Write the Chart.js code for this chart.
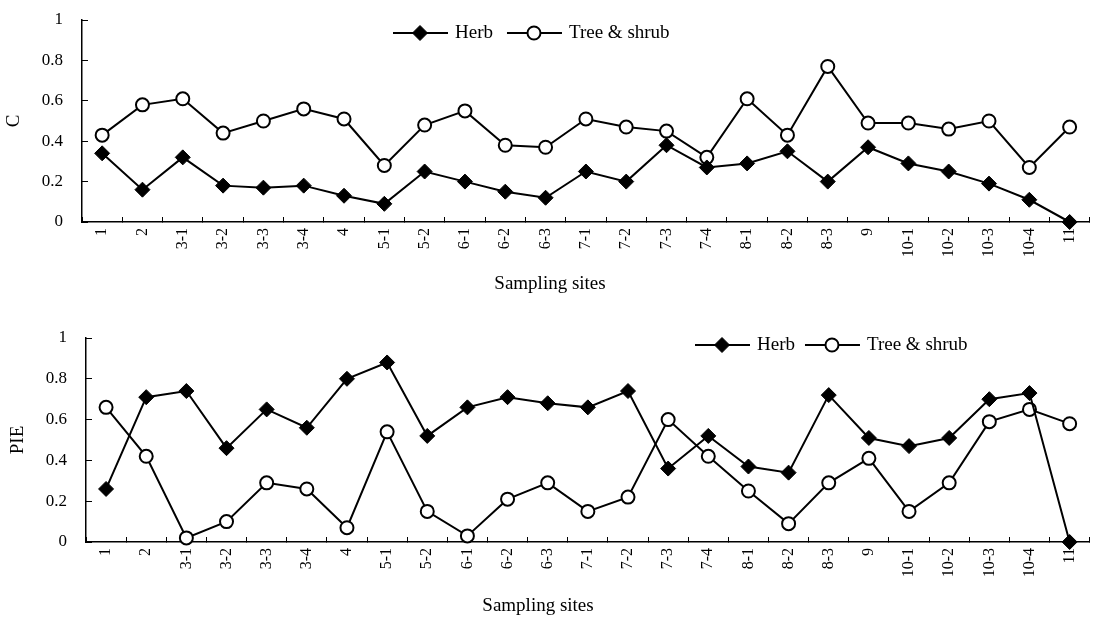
<!DOCTYPE html>
<html>
<head>
<meta charset="utf-8">
<script src="https://cdn.jsdelivr.net/npm/chart.js@4.4.0/dist/chart.umd.min.js"></script>
<style>
  body { margin: 0; background: #fff; overflow: hidden; }
  canvas { position: absolute; left: 0; }
  #topChart { top: -16px; }
  #bottomChart { top: 300px; }
</style>
</head>
<body>
<canvas id="topChart" width="1100" height="316"></canvas>
<canvas id="bottomChart" width="1100" height="319"></canvas>
<script>
// sampling sites on the x axis
const sites = ['1', '2', '3-1', '3-2', '3-3', '3-4', '4', '5-1', '5-2', '6-1', '6-2', '6-3',
  '7-1', '7-2', '7-3', '7-4', '8-1', '8-2', '8-3', '9', '10-1', '10-2', '10-3', '10-4', '11'];

// C values (top panel)
const herbC = [0.34, 0.16, 0.32, 0.18, 0.17, 0.18, 0.13, 0.09, 0.25, 0.20, 0.15, 0.12,
  0.25, 0.20, 0.38, 0.27, 0.29, 0.35, 0.20, 0.37, 0.29, 0.25, 0.19, 0.11, 0.0];
const treeC = [0.43, 0.58, 0.61, 0.44, 0.50, 0.56, 0.51, 0.28, 0.48, 0.55, 0.38, 0.37,
  0.51, 0.47, 0.45, 0.32, 0.61, 0.43, 0.77, 0.49, 0.49, 0.46, 0.50, 0.27, 0.47];

// PIE values (bottom panel)
const herbPIE = [0.26, 0.71, 0.74, 0.46, 0.65, 0.56, 0.80, 0.88, 0.52, 0.66, 0.71, 0.68,
  0.66, 0.74, 0.36, 0.52, 0.37, 0.34, 0.72, 0.51, 0.47, 0.51, 0.70, 0.73, 0.0];
const treePIE = [0.66, 0.42, 0.02, 0.10, 0.29, 0.26, 0.07, 0.54, 0.15, 0.03, 0.21, 0.29,
  0.15, 0.22, 0.60, 0.42, 0.25, 0.09, 0.29, 0.41, 0.15, 0.29, 0.59, 0.65, 0.58];

const seriesNames = ['Herb', 'Tree & shrub'];
const xTitle = 'Sampling sites';

const serif = "'Liberation Serif', 'Times New Roman', serif";

// marker used in the chart and in the legend
function drawMarker(ctx, ds, x, y) {
  ctx.beginPath();
  if (ds.pointStyle === 'rectRot') {
    const r = ds.pointRadius;
    ctx.moveTo(x - r, y); ctx.lineTo(x, y - r); ctx.lineTo(x + r, y); ctx.lineTo(x, y + r);
    ctx.closePath();
  } else {
    ctx.arc(x, y, ds.pointRadius, 0, Math.PI * 2);
  }
  ctx.fillStyle = ds.pointBackgroundColor;
  ctx.fill();
  ctx.lineWidth = ds.pointBorderWidth;
  ctx.strokeStyle = '#000';
  ctx.stroke();
}

// legend drawn as line-marker-line + label, and the x axis title
const lineLegend = {
  id: 'lineLegend',
  afterDraw(chart, args, opts) {
    const ctx = chart.ctx;
    ctx.save();
    ctx.font = '19px ' + serif;
    ctx.textBaseline = 'middle';
    let x = opts.x;
    const y = opts.y;
    chart.data.datasets.forEach(ds => {
      ctx.strokeStyle = '#000';
      ctx.lineWidth = 2;
      ctx.beginPath(); ctx.moveTo(x, y); ctx.lineTo(x + 55, y); ctx.stroke();
      drawMarker(ctx, ds, x + 27, y);
      ctx.fillStyle = '#000';
      ctx.textAlign = 'left';
      ctx.fillText(ds.label, x + 62, y);
      x += 62 + ctx.measureText(ds.label).width + opts.gap;
    });
    ctx.textAlign = 'center';
    ctx.fillText(xTitle, opts.titleX, opts.titleY);
    ctx.restore();
  }
};

function makeChart(id, herb, tree, yTitle, cfg) {
  return new Chart(document.getElementById(id), {
    type: 'line',
    data: {
      labels: sites,
      datasets: [{
        label: seriesNames[0],
        data: herb,
        borderColor: '#000',
        borderWidth: 2,
        pointStyle: 'rectRot',
        pointRadius: 7.5,
        pointBackgroundColor: '#000',
        pointBorderColor: '#000',
        pointBorderWidth: 1,
        tension: 0,
        clip: false
      }, {
        label: seriesNames[1],
        data: tree,
        borderColor: '#000',
        borderWidth: 2,
        pointStyle: 'circle',
        pointRadius: 6.5,
        pointBackgroundColor: '#fff',
        pointBorderColor: '#000',
        pointBorderWidth: 2,
        tension: 0,
        clip: false
      }]
    },
    options: {
      responsive: false,
      animation: false,
      devicePixelRatio: 1,
      layout: { padding: { top: cfg.top, right: 0, left: 0, bottom: 0 } },
      plugins: {
        legend: { display: false },
        tooltip: { enabled: false },
        lineLegend: cfg.legend
      },
      scales: {
        x: {
          offset: true,
          grid: { offset: true, drawOnChartArea: false, tickLength: -5, color: '#000', tickColor: '#000' },
          border: { color: '#000', width: 1.5 },
          ticks: { autoSkip: false, minRotation: 90, maxRotation: 90, padding: 11, color: '#000',
            font: { family: serif, size: 16 } },
          afterFit(s) { s.height = cfg.xHeight; }
        },
        y: {
          min: 0,
          max: 1,
          grid: { drawOnChartArea: false, tickLength: -6, color: '#000', tickColor: '#000' },
          border: { color: '#000', width: 1.5 },
          ticks: { stepSize: 0.2, padding: 25, color: '#000', font: { family: serif, size: 17 },
            callback: v => String(+v.toFixed(1)) },
          title: { display: true, text: yTitle, color: '#000', padding: { top: cfg.yTitlePad, bottom: 0 },
            font: { family: serif, size: 19 } },
          afterFit(s) { s.width = cfg.yWidth; }
        }
      }
    },
    plugins: [lineLegend]
  });
}

makeChart('topChart', herbC, treeC, 'C', {
  top: 36, xHeight: 78, yWidth: 82, yTitlePad: 3,
  legend: { x: 393, y: 49, gap: 14, titleX: 550, titleY: 300 }
});

makeChart('bottomChart', herbPIE, treePIE, 'PIE', {
  top: 38, xHeight: 77, yWidth: 86, yTitlePad: 7,
  legend: { x: 695, y: 45, gap: 10, titleX: 538, titleY: 306 }
});
</script>
</body>
</html>
